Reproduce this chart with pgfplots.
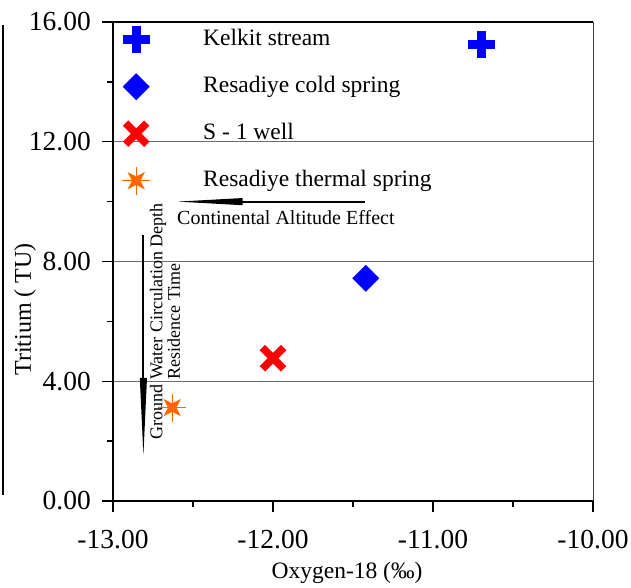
\documentclass[border=0pt]{standalone}
\usepackage{fontspec}
\setmainfont{Liberation Serif}
\usepackage{pgfplots}
\pgfplotsset{compat=1.18}

\definecolor{kblue}{RGB}{0,0,255}
\definecolor{kred}{RGB}{255,0,0}
\definecolor{korange}{RGB}{255,102,0}
\definecolor{kgrid}{RGB}{110,110,110}

% thin cross plus a thick four-point star on the diagonals
\pgfdeclareplotmark{ostar}{%
  \pgfpathmoveto{\pgfqpoint{-\pgfplotmarksize}{0pt}}%
  \pgfpathlineto{\pgfqpoint{\pgfplotmarksize}{0pt}}%
  \pgfpathmoveto{\pgfqpoint{0pt}{-\pgfplotmarksize}}%
  \pgfpathlineto{\pgfqpoint{0pt}{\pgfplotmarksize}}%
  \pgfsetlinewidth{1.2pt}%
  \pgfusepathqstroke
  \pgfpathmoveto{\pgfqpoint{.62\pgfplotmarksize}{.62\pgfplotmarksize}}%
  \pgfpathlineto{\pgfqpoint{0pt}{.3\pgfplotmarksize}}%
  \pgfpathlineto{\pgfqpoint{-.62\pgfplotmarksize}{.62\pgfplotmarksize}}%
  \pgfpathlineto{\pgfqpoint{-.3\pgfplotmarksize}{0pt}}%
  \pgfpathlineto{\pgfqpoint{-.62\pgfplotmarksize}{-.62\pgfplotmarksize}}%
  \pgfpathlineto{\pgfqpoint{0pt}{-.3\pgfplotmarksize}}%
  \pgfpathlineto{\pgfqpoint{.62\pgfplotmarksize}{-.62\pgfplotmarksize}}%
  \pgfpathlineto{\pgfqpoint{.3\pgfplotmarksize}{0pt}}%
  \pgfpathclose
  \pgfusepathqfill
}

\pgfplotsset{
  leg/.style={legend image code/.code={%
    \path[draw=none,fill=none] (0pt,-3pt) rectangle (28pt,3pt);
    \draw[overlay,##1,only marks] plot coordinates {(14pt,0pt)};}},
}

\begin{document}
\begin{tikzpicture}
\begin{axis}[
  at={(0pt,0pt)}, anchor=south west,
  scale only axis, width=480pt, height=479pt,
  xmin=-13, xmax=-10, ymin=0, ymax=16,
  xtick={-13,-12,-11,-10}, ytick={0,4,8,12,16},
  minor xtick={-12.5,-11.5,-10.5}, minor ytick={2,6,10,14},
  axis x line*=bottom, axis y line*=left,
  axis line style={-, line width=1.6pt},
  tick align=outside,
  major tick length=11pt, minor tick length=6pt,
  every tick/.style={black, line width=1.4pt},
  ymajorgrids, major grid style={kgrid, line width=1.1pt},
  clip=false,
  /pgf/number format/fixed, /pgf/number format/fixed zerofill,
  /pgf/number format/precision=2, /pgf/number format/assume math mode=true,
  ticklabel style={font=\fontsize{27.5}{30}\selectfont},
  xticklabel style={anchor=north, inner sep=0pt, yshift=-18pt},
  yticklabel style={anchor=east, inner sep=0pt, xshift=-11pt},
  xlabel={Oxygen-18 (‰)}, ylabel={Tritium ( TU)},
  xlabel style={at={(axis description cs:0.4875,-0.15)}, anchor=center, font=\fontsize{23.5}{26}\selectfont},
  ylabel style={at={(axis description cs:-0.183,0.4)}, anchor=center, font=\fontsize{24}{26}\selectfont},
  legend cell align=left,
  legend style={draw=none, fill=none, at={(rel axis cs:0,1)}, anchor=north west,
    xshift=9pt, yshift=-7pt, inner sep=0pt, row sep=26pt,
    font=\fontsize{23.5}{26}\selectfont,
    nodes={inner sep=0pt, text height=16pt, text depth=5pt},
    /tikz/every odd column/.append style={column sep=53pt}},
]
\addplot[only marks, kblue, mark=+, mark size=13.5pt, mark options={line width=9pt}, leg]
  coordinates {(-10.70,15.25)};
\addlegendentry{Kelkit stream}
\addplot[only marks, kblue, mark=square*, mark size=9.3pt, mark options={rotate=45}, leg]
  coordinates {(-11.42,7.44)};
\addlegendentry{Resadiye cold spring}
\addplot[only marks, kred, mark=x, mark size=15pt, mark options={line width=7.5pt}, leg]
  coordinates {(-12.00,4.77)};
\addlegendentry{S - 1 well}
\addplot[only marks, korange, mark=ostar, mark size=14pt, leg]
  coordinates {(-12.63,3.12)};
\addlegendentry{Resadiye thermal spring}

\draw[line width=1.6pt] (rel axis cs:0,1) -- (rel axis cs:1,1);
\draw[kgrid!60!black, line width=1pt] (rel axis cs:1,0) -- (rel axis cs:1,1);

% horizontal arrow: shaft and long thin head
\draw[line width=1.8pt] (axis cs:-11.425,10.0) -- (axis cs:-12.25,10.0);
\fill (axis cs:-12.594,10.0) -- ([yshift=3.6pt]axis cs:-12.19,10.0)
  -- ([yshift=-3.6pt]axis cs:-12.19,10.0) -- cycle;
\node[anchor=base west, font=\fontsize{20}{22}\selectfont, inner sep=0pt]
  at (axis cs:-12.6,9.22) {Continental Altitude Effect};
% vertical arrow
\draw[line width=1.8pt] (axis cs:-12.81,8.88) -- (axis cs:-12.81,3.9);
\fill (axis cs:-12.81,1.54) -- ([xshift=3.6pt]axis cs:-12.81,4.11)
  -- ([xshift=-3.6pt]axis cs:-12.81,4.11) -- cycle;
\node[rotate=90, align=center, font=\fontsize{18}{15}\selectfont, inner sep=0pt]
  at (axis cs:-12.675,6.0) {Ground Water Circulation Depth\\Residence Time};
\end{axis}
\draw[line width=1.2pt] (-110pt,6pt) -- (-110pt,476pt);
\pgfresetboundingbox
\path[use as bounding box] (-113pt,-86pt) rectangle (518pt,501pt);
\end{tikzpicture}
\end{document}
